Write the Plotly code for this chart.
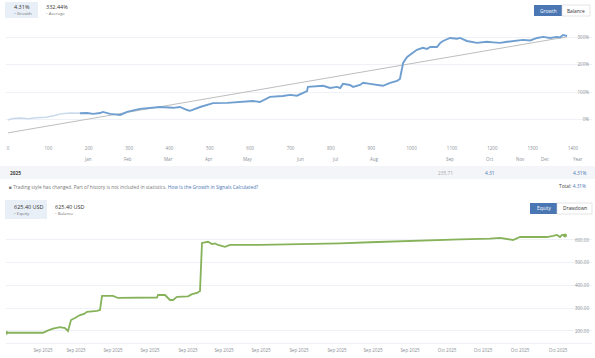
import plotly.graph_objects as go

W, H = 595, 358

# ---------------- data ----------------
# Growth chart (x = trade number, y = growth %)
growth_hist_x = [0, 12, 30, 50, 70, 95, 115, 130, 155, 178]
growth_hist_y = [0, 5, 7, 4, 8, 10, 16, 22, 25, 24]

growth_x = [178, 196, 211, 228, 235, 253, 278, 295, 327, 344, 377, 409, 426, 444, 451, 476,
            508, 543, 575, 607, 624, 649, 681, 699, 716, 731, 741, 743, 766, 781, 798, 815,
            823, 830, 847, 855, 872, 880, 897, 914, 929, 947, 964, 971, 976, 979, 989, 1004,
            1013, 1028, 1038, 1046, 1063, 1071, 1078, 1095, 1113, 1120, 1137, 1162, 1177, 1187,
            1202, 1219, 1237, 1261, 1276, 1294, 1311, 1326, 1343, 1360, 1368, 1375, 1385]
growth_y = [24, 25, 22, 25, 29, 22, 18, 29, 40, 43, 47, 44, 47, 36, 33, 47,
            61, 62, 65, 69, 65, 84, 87, 91, 88, 98, 105, 120, 124, 124, 116, 120,
            116, 131, 127, 120, 127, 135, 131, 127, 124, 135, 142, 149, 182, 207, 229, 244,
            255, 262, 258, 265, 265, 280, 287, 298, 295, 298, 287, 280, 282, 284,
            282, 280, 284, 287, 291, 289, 298, 302, 298, 302, 300, 309, 305]

trend_x = [0, 1385]
trend_y = [-47, 302]

trade_ticks = list(range(0, 1500, 100))
month_names = ["Jan", "Feb", "Mar", "Apr", "May", "Jun", "Jul", "Aug", "Sep", "Oct", "Nov", "Dec", "Year"]
month_pos = [198, 297, 398, 497, 595, 723, 810, 909, 1095, 1194, 1269, 1331, 1413]
growth_ticks = [0, 100, 200, 300]
growth_ticktext = ["0%", "100%", "200%", "300%"]

# Year row
year_label = "2025"
year_sep_value = "235.71"
year_oct_value = "4.31"
year_total = "4.31%"

# Equity chart (x = deal index, y = USD)
equity_x = [0, 37, 41, 47, 54, 59, 62, 65, 69, 74, 78, 81, 91, 94, 96, 107, 112, 151, 152, 159,
            164, 167, 171, 182, 186, 191, 194, 196, 202, 206, 209, 212, 219, 224, 254, 294,
            334, 364, 394, 424, 454, 484, 494, 507, 514, 534, 541, 547, 551, 554, 556, 559]
equity_y = [192, 192, 200, 210, 217, 213, 200, 248, 257, 270, 275, 284, 288, 292, 354, 354, 345, 347, 358, 358,
            336, 336, 350, 352, 362, 367, 376, 587, 592, 582, 585, 578, 570, 578, 578, 580,
            585, 590, 595, 598, 603, 606, 609, 600, 613, 613, 613, 618, 622, 613, 622, 620]
equity_ticks = [37, 70, 107, 144, 182, 218, 255, 293, 331, 367, 404, 441, 477, 514, 552]
equity_ticktext = ["Sep 2025"] * 11 + ["Oct 2025"] * 4
equity_yticks = [200, 300, 400, 500, 600]
equity_yticktext = ["200.00", "300.00", "400.00", "500.00", "600.00"]

growth_value = "4.31%"
average_value = "332.44%"
equity_value = "625.40 USD"
balance_value = "625.40 USD"

# ---------------- helpers ----------------
def X(px):
    return px / W

def Y(py):
    return 1 - py / H

FONT = "Open Sans"
BLUE = "#6f9fd0"
BTN = "#4a76b3"
TICK = "#8a8f96"
GREEN = "#86b25a"

fig = go.Figure()

fig.add_trace(go.Scatter(x=trend_x, y=trend_y, mode="lines",
                         line=dict(color="#bdbdbd", width=1), hoverinfo="skip",
                         xaxis="x", yaxis="y"))
fig.add_trace(go.Scatter(x=growth_hist_x, y=growth_hist_y, mode="lines",
                         line=dict(color="#c9d9ec", width=1.5), xaxis="x", yaxis="y"))
fig.add_trace(go.Scatter(x=growth_x, y=growth_y, mode="lines",
                         line=dict(color=BLUE, width=1.9), xaxis="x", yaxis="y"))
fig.add_trace(go.Scatter(x=equity_x, y=equity_y, mode="lines",
                         line=dict(color=GREEN, width=1.8), xaxis="x2", yaxis="y2"))
fig.add_trace(go.Scatter(x=[equity_x[0], equity_x[-1]], y=[equity_y[0], equity_y[-1]], mode="markers",
                         marker=dict(color=GREEN, size=4), xaxis="x2", yaxis="y2"))

shapes = []
annotations = []

def rect(x0, y0, x1, y1, fill, line=None):
    shapes.append(dict(type="rect", xref="paper", yref="paper",
                       x0=X(x0), x1=X(x1), y0=Y(y1), y1=Y(y0),
                       fillcolor=fill, line=dict(color=line or fill, width=0.6 if line else 0),
                       layer="below"))

def text(px, py, s, size=5, color="#555", anchor="left", xref="paper", xv=None):
    annotations.append(dict(x=xv if xv is not None else X(px), xref=xref, y=Y(py), yref="paper",
                            text=s, showarrow=False, xanchor=anchor, yanchor="middle",
                            font=dict(family=FONT, size=size, color=color)))

# header of growth chart
rect(5, 2, 38, 18, "#e9eff7")
text(12, 7, growth_value, 5.5, "#333")
text(12, 13, "<span style='color:" + BLUE + "'>•</span> Growth", 4.3, "#777")
text(44, 7, average_value, 5.5, "#333")
text(44, 13, "<span style='color:#bbb'>•</span> Average", 4.3, "#777")
rect(534, 5, 562, 16, BTN)
text(548, 10.5, "Growth", 4.8, "white", "center")
rect(562, 5, 590, 16, "white", "#d5d5d5")
text(576, 10.5, "Balance", 4.8, "#333", "center")

# month labels
for m, p in zip(month_names, month_pos):
    text(0, 159, m, 4.5, TICK, "center", xref="x", xv=p)

# year row
rect(0, 166, 595, 179, "#f3f5f8")
text(8, 172.5, "<b>" + year_label + "</b>", 4.8, "#444")
text(0, 172.5, year_sep_value, 4.8, "#a8a8a8", "center", xref="x", xv=1085)
text(0, 172.5, year_oct_value, 4.8, BTN, "center", xref="x", xv=1194)
text(588, 172.5, year_total, 4.8, BTN, "right")
text(588, 186, "Total: <span style='color:" + BTN + "'>" + year_total + "</span>", 4.8, "#444", "right")
text(7, 187, "<span style='color:#777'>■</span> Trading style has changed. Part of history is not included in statistics. "
     "<span style='color:" + BTN + "'>How Is the Growth in Signals Calculated?</span>", 4.8, "#777")

# header of equity chart
rect(5, 200, 47, 219, "#e9eff7")
text(12, 207, equity_value, 5.5, "#333")
text(12, 213, "<span style='color:" + GREEN + "'>•</span> Equity", 4.3, "#777")
text(53, 207, balance_value, 5.5, "#333")
text(53, 213, "<span style='color:#bbb'>•</span> Balance", 4.3, "#777")
rect(530, 203, 557, 214, BTN)
text(543.5, 208.5, "Equity", 4.8, "white", "center")
rect(557, 203, 592, 214, "white", "#d5d5d5")
text(574.5, 208.5, "Drawdown", 4.8, "#333", "center")

fig.update_layout(
    width=W, height=H, margin=dict(l=0, r=0, t=0, b=0),
    paper_bgcolor="white", plot_bgcolor="white", showlegend=False,
    font=dict(family=FONT, size=5, color=TICK),
    shapes=shapes, annotations=annotations,
    xaxis=dict(domain=[X(6), X(592)], range=[-5, 1447], tickvals=trade_ticks,
               showgrid=False, zeroline=False, showline=False, ticks="",
               tickfont=dict(size=4.5, color=TICK), ticklabelstandoff=4, fixedrange=True),
    yaxis=dict(domain=[Y(140), Y(22)], range=[-73, 356], tickvals=growth_ticks, ticktext=growth_ticktext,
               side="right", ticklabelposition="inside", showgrid=True, gridcolor="#eef1f5",
               zeroline=False, showline=False, tickfont=dict(size=4.5, color=TICK)),
    xaxis2=dict(domain=[X(6), X(592)], range=[0, 586], tickvals=equity_ticks, ticktext=equity_ticktext,
                anchor="y2", showgrid=False, zeroline=False, showline=True, linecolor="#eef1f5",
                ticks="", tickfont=dict(size=4.5, color=TICK), ticklabelstandoff=3),
    yaxis2=dict(domain=[Y(343), Y(222)], range=[147, 679], tickvals=equity_yticks, ticktext=equity_yticktext,
                anchor="x2", side="right", ticklabelposition="inside", showgrid=True, gridcolor="#eef1f5",
                zeroline=False, showline=False, tickfont=dict(size=4.5, color=TICK)),
)

fig.write_html("out.html", config={"displayModeBar": False},
               post_script="document.body.style.margin='0';document.body.style.overflow='hidden';")
